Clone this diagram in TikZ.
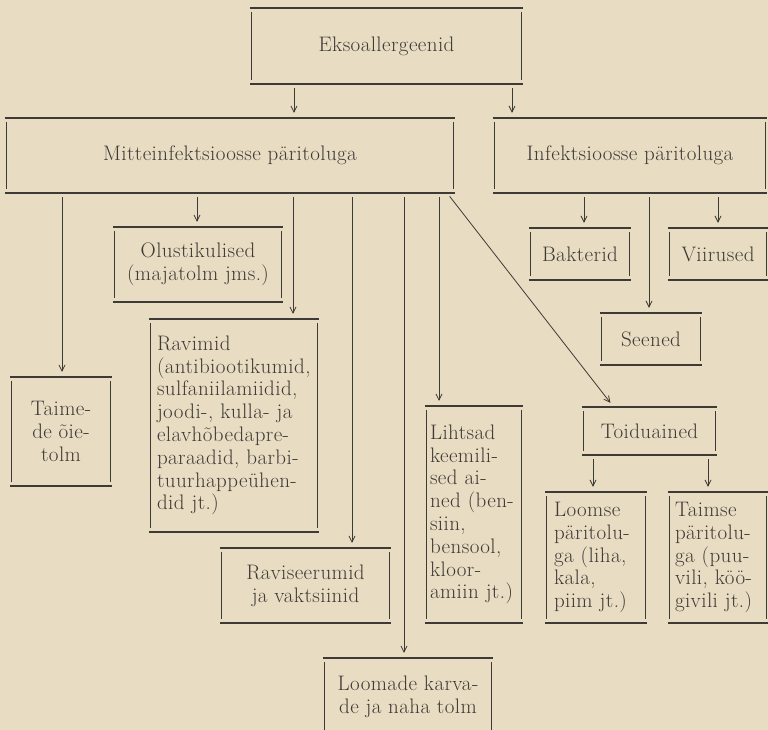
\documentclass[tikz,border=0pt]{standalone}
\usepackage{fontspec}
\setmainfont{Latin Modern Roman}[LetterSpace=2]
\usepackage{tikz}
\usetikzlibrary{arrows.meta}
\definecolor{paber}{RGB}{232,220,194}
\definecolor{tint}{RGB}{62,58,54}

\begin{document}
\begin{tikzpicture}[x=1pt, y=-1pt,
    >={Straight Barb[length=6pt,width=6pt]},
    kast/.style={inner sep=4pt, text=tint, align=center,
                 font=\fontsize{21}{22.8}\selectfont},
    hjoon/.style={tint, line width=1.5pt},
    vjoon/.style={tint, line width=0.8pt},
    pil/.style={tint, line width=0.8pt, ->, shorten <=4pt, shorten >=5pt}]
    \useasboundingbox (0,0) rectangle (768,730);
    \fill[paber] (0,0) rectangle (768,730);
    \clip (0,0) rectangle (768,730);

    \node[kast, minimum width=273pt, minimum height=76pt] (ekso) at (386.5,46) {Eksoallergeenid};
    \node[kast, minimum width=450pt, minimum height=75pt] (mitte) at (230,155.5) {Mitteinfektsioosse päritoluga};
    \node[kast, minimum width=274pt, minimum height=75pt] (infekts) at (630,155.5) {Infektsioosse päritoluga};
    \node[kast, minimum width=102pt, minimum height=52pt] (bakt) at (580,254) {Bakterid};
    \node[kast, minimum width=100pt, minimum height=52pt] (viir) at (718,254) {Viirused};
    \node[kast, minimum width=102pt, minimum height=52pt] (seened) at (651,339) {Seened};
    \node[kast, minimum width=170pt, minimum height=75pt] (olust) at (198,264.5) {Olustikulised\\(majatolm jms.)};
    \node[kast, minimum width=102pt, minimum height=109pt] (taime) at (61,431.5) {Taime-\\de õie-\\tolm};
    \node[kast, minimum width=170pt, minimum height=213pt, text width=154pt, inner xsep=3pt, align=left] (ravim) at (234,425.5)
        {Ravimid\\(antibiootikumid,\\sulfaniilamiidid,\\joodi-, kulla- ja\\elavhõbedapre-\\paraadid, barbi-\\tuurhappeühen-\\did jt.)};
    \node[kast, minimum width=171pt, minimum height=75pt] (ravis) at (305.5,585.5) {Raviseerumid\\ja vaktsiinid};
    \node[kast, minimum width=170pt, minimum height=78pt] (loomad) at (408,697) {Loomade karva-\\de ja naha tolm};
    \node[kast, minimum width=98pt, minimum height=217pt, text width=88pt, inner xsep=3pt, align=left] (lihts) at (474,514.5)
        {Lihtsad\\keemili-\\sed ai-\\ned (ben-\\siin,\\bensool,\\kloor-\\amiin jt.)};
    \node[kast, minimum width=135pt, minimum height=48pt] (toidu) at (649.5,431) {Toiduained};
    \node[kast, minimum width=102pt, minimum height=131pt, text width=84pt, inner xsep=3pt, align=left] (loomse) at (596,557.5)
        {Loomse\\päritolu-\\ga (liha,\\kala,\\piim jt.)};
    \node[kast, minimum width=100pt, minimum height=131pt, text width=86pt, inner xsep=3pt, align=left] (taimse) at (718,557.5)
        {Taimse\\päritolu-\\ga (puu-\\vili, köö-\\givili jt.)};

    % kastide jooned
    \foreach \b in {ekso,mitte,infekts,bakt,viir,seened,olust,taime,ravim,ravis,loomad,lihts,toidu,loomse,taimse} {
        \draw[hjoon] (\b.north west) -- (\b.north east) (\b.south west) -- (\b.south east);
        \draw[vjoon] ([shift={(2pt,-4pt)}]\b.north west) -- ([shift={(2pt,4pt)}]\b.south west)
                     ([shift={(-2pt,-4pt)}]\b.north east) -- ([shift={(-2pt,4pt)}]\b.south east);
    }

    % nooled
    \draw[pil] (ekso.south -| 294,0) -- (mitte.north -| 294,0);
    \draw[pil] (ekso.south -| 512,0) -- (infekts.north -| 512,0);
    \foreach \m/\x in {taime/62, olust/197, ravim/293, ravis/352, loomad/404, lihts/439}
        \draw[pil] (mitte.south -| \x,0) -- (\m.north -| \x,0);
    \draw[pil] ([xshift=-8pt]mitte.south east) -- ([xshift=-36pt]toidu.north);
    \foreach \m/\x in {bakt/584, seened/649, viir/718}
        \draw[pil] (infekts.south -| \x,0) -- (\m.north -| \x,0);
    \foreach \m/\x in {loomse/593, taimse/708}
        \draw[pil] (toidu.south -| \x,0) -- (\m.north -| \x,0);
\end{tikzpicture}
\end{document}
